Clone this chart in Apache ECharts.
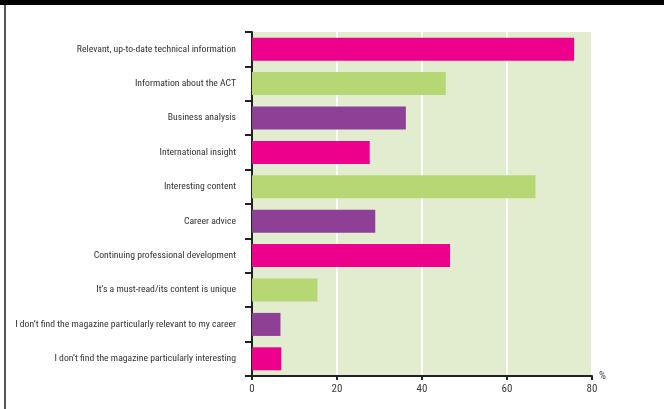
<!DOCTYPE html>
<html>
<head>
<meta charset="utf-8">
<script src="https://cdn.jsdelivr.net/npm/echarts@6/dist/echarts.min.js"></script>
<style>
html,body{margin:0;padding:0;background:#fff;}
#c{width:664px;height:409px;}
</style>
</head>
<body>
<div id="c"></div>
<script>
var categories = [
  "Relevant, up-to-date technical information",
  "Information about the ACT",
  "Business analysis",
  "International insight",
  "Interesting content",
  "Career advice",
  "Continuing professional development",
  "It’s a must-read/its content is unique",
  "I don’t find the magazine particularly relevant to my career",
  "I don’t find the magazine particularly interesting"
];
var values = [75.8, 45.6, 36.2, 27.7, 66.7, 29.0, 46.6, 15.4, 6.7, 6.9];
var barColors = ["#EC008C", "#B7D774", "#8E3F96"];
var xTicks = [0, 20, 40, 60, 80];

var font = "'Liberation Sans Narrow', 'Arial Narrow', 'Roboto Condensed', sans-serif";
var chart = echarts.init(document.getElementById('c'), null, {renderer: 'canvas'});
chart.setOption({
  animation: false,
  graphic: [
    {type: 'rect', shape: {x: 0, y: 0, width: 664, height: 5}, style: {fill: '#000'}},
    {type: 'rect', shape: {x: 4, y: 5, width: 2, height: 404}, style: {fill: '#555'}}
  ],
  grid: {left: 252, top: 32, width: 340, height: 344, show: true, backgroundColor: '#E2EDCF', borderWidth: 0, containLabel: false, outerBoundsMode: 'none'},
  xAxis: {
    type: 'value', min: xTicks[0], max: xTicks[xTicks.length - 1], interval: 20,
    name: '%', nameLocation: 'end', nameGap: 7,
    nameTextStyle: {color: '#444', fontSize: 11, fontFamily: font, verticalAlign: 'middle', padding: [0, 0, 0, 0]},
    axisLine: {show: true, lineStyle: {color: '#222', width: 2}},
    axisTick: {show: true, length: 4, lineStyle: {color: '#222', width: 2}},
    axisLabel: {color: '#3a3a3a', fontSize: 11, fontFamily: font, margin: 8},
    splitLine: {show: true, lineStyle: {color: '#fff', width: 2}}
  },
  yAxis: {
    type: 'category', data: categories, inverse: true,
    axisLine: {show: true, lineStyle: {color: '#222', width: 2}},
    axisTick: {show: true, length: 7, lineStyle: {color: '#222', width: 2}},
    axisLabel: {color: '#333', fontSize: 9.7, fontFamily: font, margin: 16}
  },
  series: [{
    type: 'bar',
    barWidth: 23,
    data: values.map(function (v, i) { return {value: v, itemStyle: {color: barColors[i % 3]}}; })
  }]
});
</script>
</body>
</html>
